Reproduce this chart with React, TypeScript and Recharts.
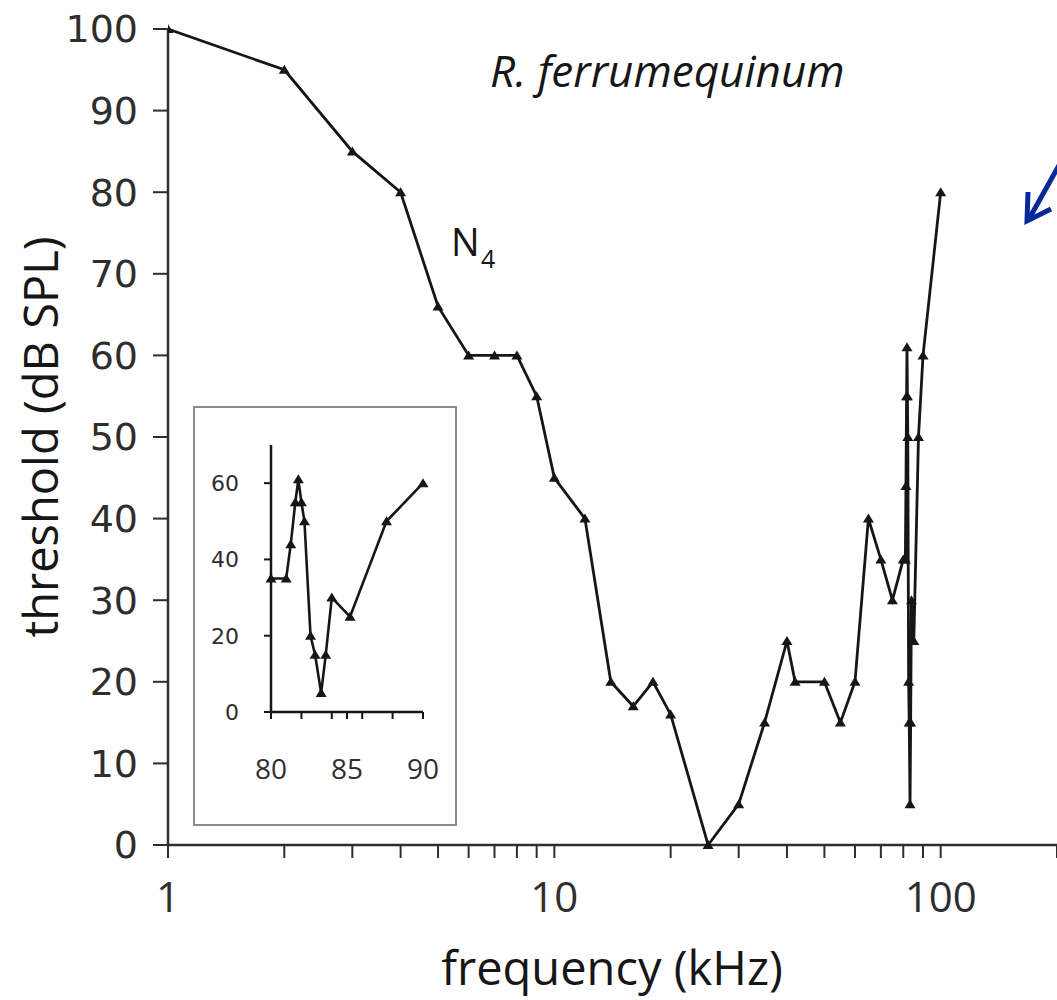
import React from 'react'
import { LineChart, Line, XAxis, YAxis } from 'recharts'

// main tuning curve, below the inset range (kHz / dB SPL)
const lowFreq = [1, 2, 3, 4, 5, 6, 7, 8, 9, 10, 12, 14, 16, 18, 20, 25, 30, 35, 40, 42, 50, 55, 60, 65, 70, 75]
const lowThreshold = [100, 95, 85, 80, 66, 60, 60, 60, 55, 45, 40, 20, 17, 20, 16, 0, 5, 15, 25, 20, 20, 15, 20, 40, 35, 30]

// 80-90 kHz part, also shown in the inset
const insetFreq = [80, 81, 81.3, 81.6, 81.8, 82, 82.2, 82.6, 82.9, 83.3, 83.6, 84, 85.2, 87.6, 90]
const insetThreshold = [35, 35, 44, 55, 61, 55, 50, 20, 15, 5, 15, 30, 25, 50, 60]

const highFreq = [100]
const highThreshold = [80]

const mainTicksX = [1, 2, 3, 4, 5, 6, 7, 8, 9, 10, 20, 30, 40, 50, 60, 70, 80, 90, 100, 200]
const labelledX = [1, 10, 100]
const mainTicksY = [0, 10, 20, 30, 40, 50, 60, 70, 80, 90, 100]

const insetTicksX = [80, 82, 84, 85, 86, 88, 90]
const insetLabelledX = [80, 85, 90]
const insetTicksY = [0, 20, 40, 60]

const toRows = (f: number[], t: number[]) => f.map((freq, i) => ({ freq, threshold: t[i] }))

const mainData = [
  ...toRows(lowFreq, lowThreshold),
  ...toRows(insetFreq, insetThreshold),
  ...toRows(highFreq, highThreshold),
]
const insetData = toRows(insetFreq, insetThreshold)

const INK = '#161616'
const AXIS = '#2e2e2e'

function triangleDot(props: any) {
  const { cx, cy, index } = props
  if (cx == null || cy == null) return <g key={index} />
  return (
    <polygon
      key={index}
      points={`${cx - 5.5},${cy + 4} ${cx + 5.5},${cy + 4} ${cx},${cy - 5}`}
      fill={INK}
    />
  )
}

function MainXTick(props: any) {
  const { x, y, payload } = props
  if (!labelledX.includes(payload.value)) return <g />
  return (
    <text x={x} y={y} dy="0.71em" textAnchor="middle" fontFamily="Open Sans" fontSize={42} fill={AXIS}>
      {payload.value}
    </text>
  )
}

function InsetXTick(props: any) {
  const { x, y, payload } = props
  if (!insetLabelledX.includes(payload.value)) return <g />
  return (
    <text x={x} y={y} dy="0.71em" textAnchor="middle" fontFamily="Open Sans" fontSize={28} fill={AXIS}>
      {payload.value}
    </text>
  )
}

export default function App() {
  return (
    <div
      style={{
        position: 'absolute',
        left: 0,
        top: 0,
        width: 1057,
        height: 1000,
        overflow: 'hidden',
        background: '#fff',
      }}
    >
      <div style={{ position: 'absolute', left: 0, top: 0 }}>
        <LineChart width={1057} height={1000} data={mainData} margin={{ top: 29, right: 0, bottom: 0, left: 0 }}>
          <XAxis
            dataKey="freq"
            type="number"
            scale="log"
            domain={[1, 200]}
            ticks={mainTicksX}
            interval={0}
            height={155}
            tickSize={13}
            tickMargin={24}
            axisLine={{ stroke: AXIS, strokeWidth: 2.5 }}
            tickLine={{ stroke: AXIS, strokeWidth: 2 }}
            tick={<MainXTick />}
            allowDataOverflow
          />
          <YAxis
            type="number"
            domain={[0, 100]}
            ticks={mainTicksY}
            interval={0}
            width={168}
            tickSize={15}
            tickMargin={15}
            axisLine={{ stroke: AXIS, strokeWidth: 2.5 }}
            tickLine={{ stroke: AXIS, strokeWidth: 2 }}
            tick={{ fontFamily: 'DejaVu Sans', fontSize: 38, fill: AXIS }}
          />
          <Line
            dataKey="threshold"
            type="linear"
            stroke={INK}
            strokeWidth={2.8}
            dot={triangleDot}
            activeDot={false}
            isAnimationActive={false}
          />
        </LineChart>
      </div>

      {/* inset: 80-90 kHz detail */}
      <div
        style={{
          position: 'absolute',
          left: 193,
          top: 406,
          width: 260,
          height: 416,
          border: '2px solid #8a8a8a',
          background: '#fff',
        }}
      >
        <LineChart width={260} height={416} data={insetData} margin={{ top: 37, right: 32, bottom: 0, left: 0 }}>
          <XAxis
            dataKey="freq"
            type="number"
            domain={[80, 90]}
            ticks={insetTicksX}
            interval={0}
            height={112}
            tickSize={7}
            tickMargin={40}
            axisLine={{ stroke: INK, strokeWidth: 2.5 }}
            tickLine={{ stroke: INK, strokeWidth: 2 }}
            tick={<InsetXTick />}
          />
          <YAxis
            type="number"
            domain={[0, 70]}
            ticks={insetTicksY}
            interval={0}
            width={76}
            tickSize={7}
            tickMargin={25}
            axisLine={{ stroke: INK, strokeWidth: 2.5 }}
            tickLine={{ stroke: INK, strokeWidth: 2 }}
            tick={{ fontFamily: 'DejaVu Sans', fontSize: 22, fill: AXIS }}
          />
          <Line
            dataKey="threshold"
            type="linear"
            stroke={INK}
            strokeWidth={2.6}
            dot={triangleDot}
            activeDot={false}
            isAnimationActive={false}
          />
        </LineChart>
      </div>

      {/* annotations and axis titles */}
      <svg width={1057} height={1000} style={{ position: 'absolute', left: 0, top: 0, pointerEvents: 'none' }}>
        <text x={490} y={87} fontFamily="Open Sans" fontStyle="italic" fontSize={44} fill={INK}>
          R. ferrumequinum
        </text>
        <text x={451} y={256} fontFamily="Open Sans" fontSize={38} fill={INK}>
          N
        </text>
        <text x={481} y={268} fontFamily="Open Sans" fontSize={25} fill={INK}>
          4
        </text>
        <text x={612} y={985} textAnchor="middle" fontFamily="Open Sans" fontSize={47} fill={INK}>
          frequency (kHz)
        </text>
        <text
          transform="translate(58,437) rotate(-90)"
          textAnchor="middle"
          fontFamily="Open Sans"
          fontSize={47}
          fill={INK}
        >
          threshold (dB SPL)
        </text>
        <line x1={1062} y1={160} x2={1029} y2={219} stroke="#08289a" strokeWidth={5} />
        <polyline
          points="1028,192 1027,221 1051,209"
          fill="none"
          stroke="#08289a"
          strokeWidth={5}
        />
      </svg>
    </div>
  )
}
